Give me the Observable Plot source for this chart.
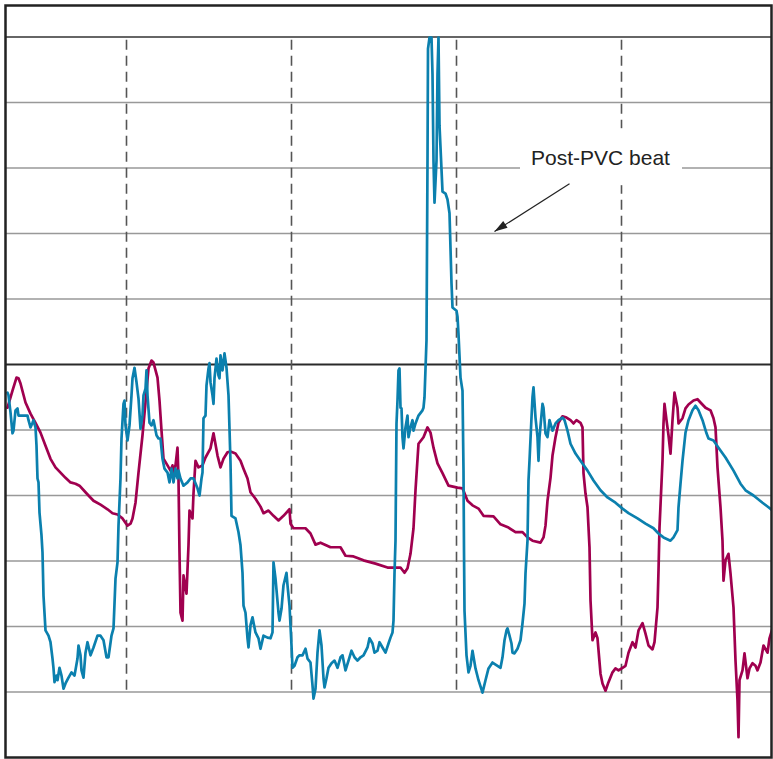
<!DOCTYPE html>
<html><head><meta charset="utf-8">
<script src="https://cdn.jsdelivr.net/npm/d3@7"></script>
<script src="https://cdn.jsdelivr.net/npm/@observablehq/plot@0.6"></script>
<style>body{margin:0;background:#fff}#chart svg{display:block}</style>
</head><body><div id="chart"></div>
<script>
// [sample, amplitude in grid units]
const maroonTrace = [[2,-0.66],[7,-0.40],[11,-0.20],[13,-0.21],[15,-0.29],[20,-0.58],[25,-0.75],[30,-0.89],[35,-1.04],[40,-1.24],[45,-1.44],[50,-1.57],[55,-1.65],[60,-1.73],[65,-1.80],[70,-1.82],[74,-1.85],[80,-1.95],[83,-2.00],[88,-2.08],[95,-2.14],[102,-2.21],[107,-2.27],[112,-2.29],[117,-2.35],[122,-2.46],[125,-2.43],[127,-2.35],[130,-2.11],[133,-1.65],[137,-1.08],[140,-0.58],[143,-0.06],[146,0.06],[148,0.03],[152,-0.20],[154,-0.55],[156,-1.01],[158,-1.44],[162,-1.54],[165,-1.62],[167,-1.54],[168,-1.69],[170,-1.54],[172,-1.27],[173,-1.74],[174,-2.87],[175,-3.79],[177,-3.91],[178,-3.22],[181,-3.50],[183,-2.76],[184,-2.23],[187,-2.35],[188,-1.97],[190,-1.47],[193,-1.57],[197,-1.54],[200,-1.42],[205,-1.28],[208,-1.05],[212,-1.39],[215,-1.57],[218,-1.44],[222,-1.34],[225,-1.33],[230,-1.36],[235,-1.47],[238,-1.59],[242,-1.74],[245,-1.95],[250,-2.05],[255,-2.17],[258,-2.27],[263,-2.23],[268,-2.31],[273,-2.38],[278,-2.31],[284,-2.21],[285,-2.43],[288,-2.50],[300,-2.50],[305,-2.58],[310,-2.75],[315,-2.72],[325,-2.79],[335,-2.79],[340,-2.92],[348,-2.93],[358,-2.99],[370,-3.04],[382,-3.10],[395,-3.10],[399,-3.18],[402,-3.11],[405,-2.89],[408,-2.50],[410,-1.92],[413,-1.21],[418,-1.11],[422,-0.96],[425,-1.04],[428,-1.27],[432,-1.51],[437,-1.66],[443,-1.85],[452,-1.88],[457,-1.89],[462,-2.08],[467,-2.15],[473,-2.20],[478,-2.31],[488,-2.32],[495,-2.44],[503,-2.49],[510,-2.56],[517,-2.56],[522,-2.64],[527,-2.69],[535,-2.72],[538,-2.64],[540,-2.46],[542,-2.08],[545,-1.73],[547,-1.39],[550,-1.11],[553,-0.89],[557,-0.79],[561,-0.81],[565,-0.85],[568,-0.90],[571,-0.85],[575,-0.89],[577,-0.96],[578,-1.66],[580,-1.97],[582,-2.18],[584,-2.79],[585,-3.60],[587,-4.21],[590,-4.09],[592,-4.18],[595,-4.72],[597,-4.87],[600,-4.98],[603,-4.85],[607,-4.70],[610,-4.64],[613,-4.67],[617,-4.63],[620,-4.60],[623,-4.40],[627,-4.24],[630,-4.32],[633,-4.06],[637,-3.95],[640,-4.11],[643,-4.29],[647,-4.35],[649,-4.24],[652,-3.71],[653,-3.15],[654,-2.49],[657,-1.47],[658,-0.90],[659,-0.60],[661,-0.85],[663,-1.08],[665,-1.36],[667,-0.85],[669,-0.43],[672,-0.66],[673,-0.90],[677,-0.82],[680,-0.67],[683,-0.61],[688,-0.55],[692,-0.53],[695,-0.58],[700,-0.66],[705,-0.70],[708,-0.82],[710,-0.96],[712,-1.57],[715,-2.18],[717,-2.69],[718,-3.30],[720,-2.99],[723,-2.89],[725,-3.19],[728,-3.71],[730,-4.52],[732,-5.13],[733,-5.69],[734,-4.82],[737,-4.67],[739,-4.41],[742,-4.79],[744,-4.64],[747,-4.56],[750,-4.60],[752,-4.67],[755,-4.55],[758,-4.29],[762,-4.40],[764,-4.18],[767,-4.03]];

const blueTrace = [[2,-0.43],[3,-0.47],[5,-0.73],[7,-1.05],[8,-1.01],[10,-0.70],[12,-0.67],[13,-0.78],[17,-0.78],[22,-0.78],[23,-0.85],[25,-0.96],[27,-0.89],[28,-0.85],[30,-0.96],[31,-1.24],[32,-1.74],[33,-1.80],[34,-2.26],[36,-2.61],[37,-2.87],[38,-3.53],[40,-4.06],[43,-4.14],[45,-4.24],[47,-4.49],[48,-4.64],[49,-4.85],[51,-4.75],[52,-4.82],[54,-4.63],[56,-4.75],[58,-4.95],[60,-4.87],[63,-4.78],[66,-4.70],[69,-4.75],[72,-4.49],[73,-4.29],[75,-4.44],[76,-4.67],[78,-4.78],[80,-4.40],[82,-4.24],[85,-4.44],[88,-4.32],[92,-4.14],[95,-4.14],[98,-4.21],[101,-4.47],[103,-4.47],[106,-4.14],[108,-4.03],[110,-3.27],[112,-3.02],[113,-2.46],[115,-1.74],[116,-1.13],[118,-0.60],[119,-0.55],[120,-0.93],[122,-1.16],[124,-0.93],[126,-0.47],[127,-0.21],[129,-0.05],[131,-0.27],[133,-0.52],[135,-0.98],[137,-0.78],[138,-0.47],[140,-0.37],[141,-0.09],[142,-0.47],[144,-0.89],[146,-0.93],[148,-0.85],[151,-1.08],[153,-1.13],[155,-1.13],[157,-1.44],[159,-1.59],[162,-1.65],[164,-1.80],[166,-1.59],[168,-1.80],[170,-1.59],[172,-1.74],[173,-1.62],[175,-1.74],[178,-1.85],[182,-1.80],[185,-1.74],[188,-1.74],[192,-1.89],[194,-2.00],[196,-1.74],[197,-1.65],[198,-0.82],[200,-0.78],[201,-0.32],[203,-0.06],[204,0.02],[205,-0.27],[207,-0.47],[208,-0.60],[209,-0.21],[211,0.09],[213,-0.17],[214,-0.21],[215,0.14],[217,-0.09],[219,0.17],[221,-0.05],[223,-0.47],[225,-1.50],[226,-2.31],[230,-2.35],[233,-2.56],[235,-2.76],[237,-3.18],[238,-3.68],[240,-3.79],[242,-4.18],[243,-4.32],[245,-3.98],[247,-3.86],[248,-3.94],[250,-4.09],[253,-4.18],[255,-4.34],[258,-4.14],[262,-4.17],[265,-4.18],[267,-4.09],[268,-3.02],[270,-3.27],[273,-3.79],[274,-3.91],[276,-3.73],[278,-3.37],[281,-3.18],[282,-3.37],[284,-3.68],[286,-4.29],[287,-4.63],[289,-4.60],[292,-4.47],[294,-4.44],[297,-4.44],[300,-4.34],[302,-4.49],[305,-4.55],[307,-4.90],[308,-5.10],[310,-4.95],[312,-4.40],[314,-4.06],[316,-4.29],[318,-4.79],[319,-4.93],[321,-4.79],[323,-4.63],[326,-4.56],[329,-4.52],[332,-4.63],[335,-4.47],[337,-4.44],[340,-4.67],[343,-4.52],[346,-4.37],[349,-4.47],[352,-4.52],[355,-4.47],[358,-4.44],[362,-4.32],[364,-4.18],[367,-4.26],[369,-4.40],[372,-4.37],[374,-4.24],[377,-4.32],[380,-4.40],[383,-4.26],[385,-4.17],[387,-4.09],[388,-3.91],[389,-3.19],[390,-2.69],[391,-0.90],[392,-0.55],[393,-0.09],[394,-0.06],[395,-0.66],[396,-0.67],[397,-1.11],[398,-1.28],[400,-0.96],[402,-0.78],[403,-1.11],[405,-0.96],[407,-0.85],[408,-1.01],[410,-0.90],[413,-0.78],[417,-0.70],[418,-0.66],[419,-0.50],[421,0.37],[422,3.11],[422.5,4.82],[424,4.99],[426,4.99],[427,4.43],[428,3.11],[429,2.47],[431,3.11],[432,4.43],[433,4.99],[434,3.65],[437,2.64],[440,2.61],[442,2.52],[444,2.31],[446,1.24],[447,0.87],[451,0.82],[452,0.73],[453,0.46],[455,-0.20],[457,-0.40],[458,-1.62],[458.5,-2.84],[459,-3.76],[461,-4.44],[463,-4.70],[465,-4.60],[467,-4.37],[470,-4.64],[473,-4.82],[477,-5.01],[480,-4.82],[483,-4.64],[487,-4.55],[492,-4.60],[495,-4.63],[497,-4.47],[499,-4.21],[501,-4.06],[502,-4.03],[504,-4.14],[506,-4.26],[507,-4.40],[509,-4.41],[512,-4.34],[515,-4.21],[517,-3.95],[519,-3.65],[520,-3.19],[522,-2.69],[523,-1.77],[524,-1.47],[526,-0.81],[527,-0.50],[528,-0.35],[530,-0.81],[532,-1.11],[533,-1.47],[534,-1.11],[537,-0.60],[538,-0.66],[540,-1.05],[542,-1.11],[544,-0.85],[547,-1.01],[550,-0.90],[553,-0.85],[557,-0.81],[559,-0.85],[562,-1.01],[565,-1.21],[570,-1.36],[575,-1.47],[582,-1.62],[588,-1.77],[595,-1.92],[602,-2.03],[610,-2.11],[617,-2.20],[623,-2.27],[632,-2.35],[640,-2.43],[648,-2.50],[653,-2.58],[658,-2.64],[665,-2.69],[668,-2.64],[672,-2.53],[673,-2.18],[675,-1.82],[677,-1.47],[680,-1.04],[683,-0.85],[687,-0.70],[690,-0.63],[693,-0.70],[697,-0.85],[701,-1.05],[703,-1.13],[708,-1.16],[713,-1.27],[720,-1.42],[728,-1.62],[735,-1.82],[740,-1.92],[748,-2.00],[757,-2.11],[763,-2.18],[767,-2.23]];

const gridLevels = [-5, -4, -3, -2, -1, 1, 2, 3, 4];
const baselineLevel = [0];
const topLevel = [5];
const beatMarkers = [121, 286, 451, 616];
const markerSpan = {top: 4.95, bottom: -5};
const xDomain = [0, 766];
const yDomain = [-6.0, 5.481];
const note = {label: "Post-PVC beat", x: 595, y: 3.145,
  boxX1: 515, boxX2: 677, boxY1: 2.73, boxY2: 3.60,
  fromX: 564, fromY: 2.76, toX: 489, toY: 2.03};

const hasSpike = typeof Plot.spike === "function";

const marks = [
  Plot.ruleY(gridLevels, {stroke: "#999", strokeWidth: 1.6}),
  Plot.ruleY(topLevel, {stroke: "#333", strokeWidth: 1.4}),
  Plot.ruleY(baselineLevel, {stroke: "#2a2a2a", strokeWidth: 2}),
  Plot.ruleX(beatMarkers, {y1: markerSpan.top, y2: markerSpan.bottom, stroke: "#555", strokeWidth: 1.6, strokeDasharray: "10,6"}),
  Plot.rect([note], {x1: "boxX1", x2: "boxX2", y1: "boxY1", y2: "boxY2", fill: "white"}),
  Plot.text([note], {x: "x", y: "y", text: "label", fontSize: 21, fill: "#222", fontFamily: "Liberation Sans, Arial, sans-serif"}),
  Plot.link([note], {x1: "fromX", y1: "fromY", x2: "toX", y2: "toY", stroke: "#222", strokeWidth: 1.2}),
  hasSpike
    ? Plot.vector([note], {x: "toX", y: "toY", length: 13, rotate: 237, anchor: "end", shape: "spike", r: 4, fill: "#222", stroke: "none"})
    : Plot.dot([note], {x: "toX", y: "toY", symbol: "triangle", r: 4, rotate: 237, dx: 4, dy: -3, fill: "#222"}),
  Plot.line(maroonTrace, {x: d => d[0], y: d => d[1], stroke: "#a0004f", strokeWidth: 2.7, strokeLinejoin: "round", clip: true}),
  Plot.line(blueTrace, {x: d => d[0], y: d => d[1], stroke: "#0b80ae", strokeWidth: 2.7, strokeLinejoin: "round", clip: true}),
  Plot.frame({stroke: "#222", strokeWidth: 2.5})
];

const chart = Plot.plot({
  width: 773,
  height: 759,
  marginLeft: 5,
  marginRight: 2,
  marginTop: 5,
  marginBottom: 2,
  x: {domain: xDomain, axis: null},
  y: {domain: yDomain, axis: null},
  style: {background: "white", overflow: "visible"},
  marks
});
document.getElementById("chart").appendChild(chart);
</script>
</body></html>
